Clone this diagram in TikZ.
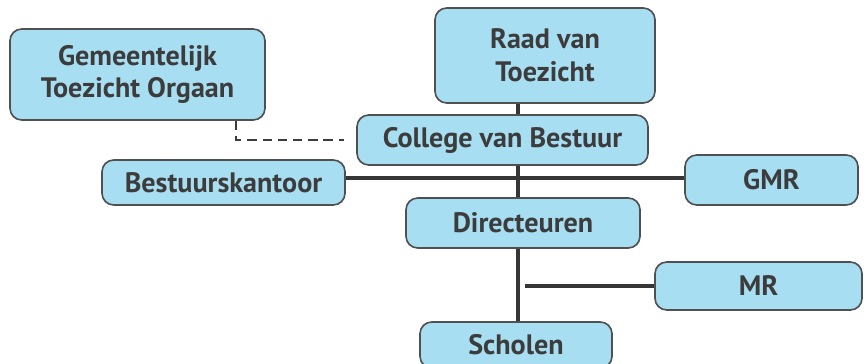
\documentclass[tikz,border=0pt]{standalone}
\usepackage{fontspec}
\setmainfont{PT Sans}
\usepackage{tikz}
\usetikzlibrary{positioning,calc}
\definecolor{boxfill}{RGB}{168,222,242}
\definecolor{boxdraw}{RGB}{80,80,80}
\definecolor{boxtext}{RGB}{60,60,60}
\tikzstyle{orgbox} = [draw=boxdraw,fill=boxfill,line width=1.4pt,rounded corners=10pt,align=center,text=boxtext,font=\fontsize{24}{28}\selectfont\bfseries,inner sep=0pt]
\tikzstyle{line} = [draw=boxtext!90!black,line width=3.2pt]
\tikzstyle{dashline} = [draw=boxtext,line width=1.8pt,dash pattern=on 8pt off 5pt]

\begin{document}
\begin{tikzpicture}[x=0.03cm,y=-0.03cm]
            \useasboundingbox (0,0) rectangle (867,364);
            \clip (0,0) rectangle (867,364);
            \coordinate (spine) at (518,178);
            \coordinate (dashbend) at (236,140);
            \node[orgbox,minimum width=7.65cm,minimum height=2.73cm] (gto) at (137.5,74.5) {Gemeentelijk\\Toezicht Orgaan};
            \node[orgbox,minimum width=6.6cm,minimum height=2.85cm] (rvt) at (545,55.5) {Raad van\\Toezicht};
            \node[orgbox,minimum width=8.73cm,minimum height=1.5cm] (cvb) at (502.5,140) {College van Bestuur};
            \node[orgbox,minimum width=7.29cm,minimum height=1.35cm] (bk) at (223.5,182.5) {Bestuurskantoor};
            \node[orgbox,minimum width=5.19cm,minimum height=1.5cm] (gmr) at (771.5,180) {GMR};
            \node[orgbox,minimum width=7.02cm,minimum height=1.5cm] (dir) at (523,223) {Directeuren};
            \node[orgbox,minimum width=6.21cm,minimum height=1.44cm] (mr) at (758.5,286) {MR};
            \node[orgbox,minimum width=5.76cm,minimum height=1.38cm] (sch) at (516,345) {Scholen};
            \coordinate (mrstart) at ($(spine |- mr.west)+(7,0)$);
            \path[line] (rvt.south -| spine) -- (cvb.north -| spine);
            \path[line] (cvb.south -| spine) -- (dir.north -| spine);
            \path[line] (dir.south -| spine) -- (sch.north -| spine);
            \path[line] (bk.east |- spine) -- (gmr.west |- spine);
            \path[line] (mrstart) -- (mr.west);
            \path[dashline,shorten >=10pt] (gto.south -| dashbend) -- (dashbend) -- (cvb.west |- dashbend);
        \end{tikzpicture}
\end{document}
